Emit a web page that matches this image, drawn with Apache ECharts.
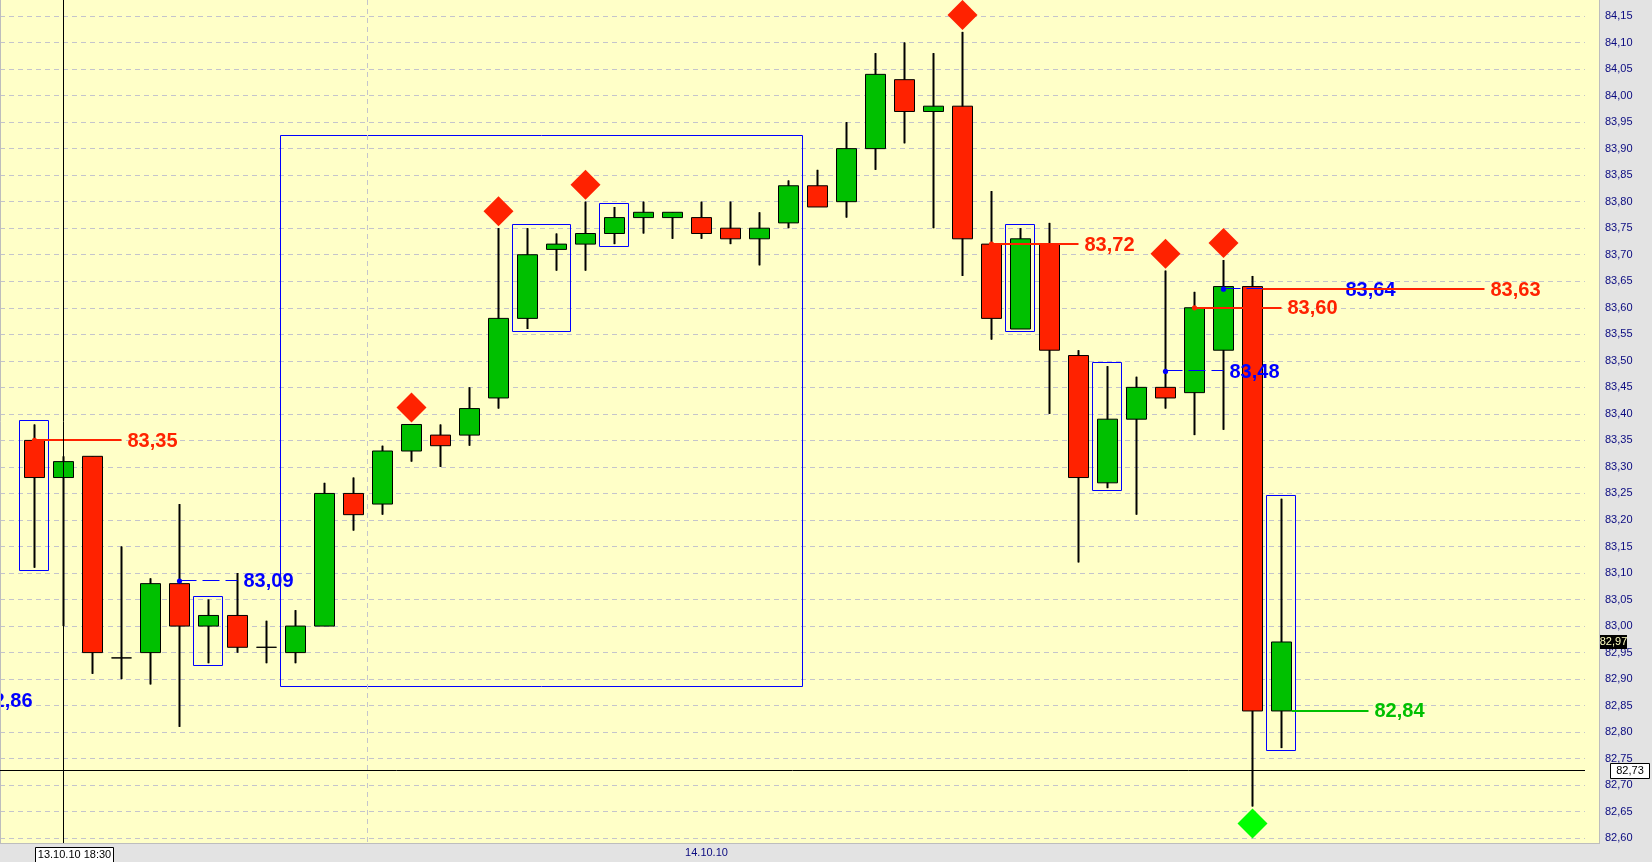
<!DOCTYPE html>
<html>
<head>
<meta charset="utf-8">
<script src="https://cdn.jsdelivr.net/npm/echarts@6/dist/echarts.min.js"></script>
<style>
html,body{margin:0;padding:0;background:#e3e3e3;}
#c{width:1652px;height:862px;}
</style>
</head>
<body>
<div id="c"></div>
<script>
// ---------------- data ----------------
const opens  = [83.35,83.28,83.32,82.94,82.95,83.08,83.00,83.02,82.96,82.95,83.00,83.25,83.23,83.33,83.36,83.36,83.43,83.58,83.71,83.72,83.74,83.77,83.77,83.77,83.75,83.73,83.76,83.83,83.80,83.90,84.03,83.97,83.98,83.72,83.56,83.72,83.51,83.27,83.39,83.45,83.44,83.52,83.64,82.84];
const closes = [83.28,83.31,82.95,82.94,83.08,83.00,83.02,82.96,82.96,83.00,83.25,83.21,83.33,83.38,83.34,83.41,83.58,83.70,83.72,83.74,83.77,83.78,83.78,83.74,83.73,83.75,83.83,83.79,83.90,84.04,83.97,83.98,83.73,83.58,83.73,83.52,83.28,83.39,83.45,83.43,83.60,83.64,82.84,82.97];
const lows   = [83.11,83.00,82.91,82.90,82.89,82.81,82.93,82.95,82.93,82.93,83.00,83.18,83.21,83.31,83.30,83.34,83.41,83.56,83.67,83.67,83.72,83.74,83.73,83.73,83.72,83.68,83.75,83.79,83.77,83.86,83.91,83.75,83.66,83.54,83.56,83.40,83.12,83.26,83.21,83.41,83.36,83.37,82.66,82.77];
const highs  = [83.38,83.32,83.32,83.15,83.09,83.23,83.05,83.10,83.01,83.03,83.27,83.28,83.34,83.38,83.38,83.45,83.75,83.75,83.74,83.80,83.79,83.80,83.78,83.80,83.80,83.78,83.84,83.86,83.95,84.08,84.10,84.08,84.12,83.82,83.75,83.76,83.52,83.49,83.47,83.67,83.63,83.69,83.66,83.24];
const emptyBars = 9;
const categories = opens.map((_, i) => String(i))
  .concat(Array.from({length: emptyBars}, (_, k) => String(opens.length + k)));

const yTickMin = 82.55, yTickMax = 84.20, yTickStep = 0.05;

// highlighted candle groups (first, last candle)
const boxFrom = [0, 6, 17, 20, 34, 37, 43];
const boxTo   = [0, 6, 18, 20, 34, 37, 43];
// consolidation zone
const zoneFrom = [9], zoneTo = [26], zoneHigh = [83.923], zoneLow = [82.886];

// price levels
const levelCandle   = [0, 5, 33, 39, 40, 41, 42, 43];
const levelValue    = [83.35, 83.085, 83.72, 83.48, 83.60, 83.635, 83.635, 82.84];
const levelLabel    = ['83,35','83,09','83,72','83,48','83,60','83,64','83,63','82,84'];
const levelSpan     = [3, 2, 3, 2, 3, 4, 8, 3];
const levelKind     = ['high','pivot','high','pivot','high','pivot','high','low'];
const levelFromBody = [false,false,false,false,false,false,true,true];

// level whose line starts off the left edge
const offLeftValue = [82.86];
const offLeftLabel = ['82,86'];

// signals
const sellSignals = [13, 16, 19, 32, 39, 41];
const buySignals  = [42];

// cursor / date info
const crossCandle = 1, crossValue = 82.727, crossDate = '13.10.10 18:30';
const dayBreakAfter = 11;
const dayLabelCandle = 23, dayLabel = '14.10.10';

// ---------------- styles ----------------
const RED = '#ff2200', GREEN = '#00c000', BLUE = '#0000ff';
const KIND = {
  high:  {color: RED,   width: 2, dash: null},
  pivot: {color: BLUE,  width: 1, dash: [17, 6]},
  low:   {color: GREEN, width: 2, dash: null}
};
const BODY = 20;
const FONT_BIG = 'bold 20px "Liberation Sans", Arial, sans-serif';
const FONT_SM = '11px "Liberation Sans", Arial, sans-serif';
const PLOT_R = 1599, PLOT_B = 843, GRID_R = 1585;
const crisp = v => Math.floor(v - 0.5) + 0.5;
const fmt = v => v.toFixed(2).replace('.', ',');

const gridTop = -10.525, gridBottom = -2.8;

function renderBox(params, api) {
  const i = params.dataIndex;
  let hi = -Infinity, lo = Infinity;
  for (let k = boxFrom[i]; k <= boxTo[i]; k++) { hi = Math.max(hi, highs[k]); lo = Math.min(lo, lows[k]); }
  const band = api.size([1, 0])[0];
  const a = api.coord([boxFrom[i], hi]), b = api.coord([boxTo[i], lo]);
  const x0 = crisp(a[0] - band / 2), x1 = crisp(b[0] + band / 2);
  const y0 = crisp(a[1] - 3), y1 = crisp(b[1] + 3);
  return {type: 'rect', shape: {x: x0, y: y0, width: x1 - x0, height: y1 - y0},
    style: {fill: 'none', stroke: BLUE, lineWidth: 1}};
}
function renderZone(params, api) {
  const i = params.dataIndex;
  const band = api.size([1, 0])[0];
  const a = api.coord([zoneFrom[i], zoneHigh[i]]), b = api.coord([zoneTo[i], zoneLow[i]]);
  const x0 = crisp(a[0] - band / 2), x1 = crisp(b[0] + band / 2);
  const y0 = crisp(a[1]), y1 = crisp(b[1]);
  return {type: 'rect', shape: {x: x0, y: y0, width: x1 - x0, height: y1 - y0},
    style: {fill: 'none', stroke: BLUE, lineWidth: 1}};
}
function renderLevel(params, api) {
  const i = params.dataIndex;
  const p = api.coord([levelCandle[i], levelValue[i]]);
  const band = api.size([1, 0])[0];
  const st = KIND[levelKind[i]];
  const y = st.width % 2 ? crisp(p[1]) : Math.round(p[1]);
  const x0 = levelFromBody[i] ? p[0] + BODY / 2 : p[0];
  const x1 = p[0] + band * levelSpan[i];
  const lineStyle = {stroke: st.color, lineWidth: st.width};
  if (st.dash) lineStyle.lineDash = st.dash;
  const children = [{type: 'line', shape: {x1: x0, y1: y, x2: x1, y2: y}, style: lineStyle}];
  if (!levelFromBody[i]) children.push({type: 'circle', shape: {cx: p[0], cy: p[1], r: 2.6}, style: {fill: st.color}});
  children.push({type: 'text', style: {x: x1 + 6, y: p[1] + 1, text: levelLabel[i], fill: st.color,
    font: FONT_BIG, align: 'left', verticalAlign: 'middle'}});
  return {type: 'group', children: children};
}
function renderOffLeft(params, api) {
  const i = params.dataIndex;
  const p = api.coord([0, offLeftValue[i]]);
  return {type: 'text', style: {x: p[0] - 2, y: p[1] + 1, text: offLeftLabel[i], fill: BLUE,
    font: FONT_BIG, align: 'right', verticalAlign: 'middle'}};
}
function renderChrome(params, api) {
  const band = api.size([1, 0])[0];
  const p = api.coord([crossCandle, crossValue]);
  const xv = crisp(p[0]), yh = crisp(p[1]);
  const sep = crisp(api.coord([dayBreakAfter, crossValue])[0] + band / 2);
  const dl = api.coord([dayLabelCandle, crossValue])[0] + 5;
  const last = closes[closes.length - 1];
  const yl = api.coord([0, last])[1];
  return {type: 'group', children: [
    {type: 'line', shape: {x1: sep, y1: 0, x2: sep, y2: PLOT_B}, style: {stroke: '#c4c4cc', lineWidth: 1, lineDash: [5, 4]}},
    {type: 'line', shape: {x1: xv, y1: 0, x2: xv, y2: PLOT_B}, style: {stroke: '#000', lineWidth: 1}},
    {type: 'line', shape: {x1: 0, y1: yh, x2: GRID_R, y2: yh}, style: {stroke: '#000', lineWidth: 1}},
    {type: 'rect', shape: {x: xv - 28, y: 847.5, width: 78, height: 16}, style: {fill: '#fff', stroke: '#000', lineWidth: 1}},
    {type: 'text', style: {x: xv + 11, y: 855, text: crossDate, fill: '#000', font: FONT_SM, align: 'center', verticalAlign: 'middle'}},
    {type: 'text', style: {x: dl, y: 852.5, text: dayLabel, fill: '#0a0a80', font: FONT_SM, align: 'center', verticalAlign: 'middle'}},
    {type: 'rect', shape: {x: 1610.5, y: yh - 7, width: 39, height: 15}, style: {fill: '#fff', stroke: '#000', lineWidth: 1}},
    {type: 'text', style: {x: 1630, y: yh + 0.5, text: fmt(crossValue), fill: '#000', font: FONT_SM, align: 'center', verticalAlign: 'middle'}},
    {type: 'rect', shape: {x: 1600, y: Math.round(yl) - 7, width: 27, height: 14}, style: {fill: '#000'}},
    {type: 'text', style: {x: 1613.5, y: Math.round(yl), text: fmt(last), fill: '#ffffc0', font: FONT_SM, align: 'center', verticalAlign: 'middle'}}
  ]};
}

const chart = echarts.init(document.getElementById('c'), null, {renderer: 'canvas'});
chart.setOption({
  animation: false,
  backgroundColor: '#e3e3e3',
  graphic: [
    {type: 'rect', z: -1, silent: true, shape: {x: 0, y: 0, width: PLOT_R, height: PLOT_B}, style: {fill: '#ffffc8'}},
    {type: 'rect', z: 50, silent: true, shape: {x: 0, y: PLOT_B, width: PLOT_R + 1, height: 862 - PLOT_B}, style: {fill: '#e3e3e3'}},
    {type: 'line', z: 51, silent: true, shape: {x1: 0.5, y1: 0, x2: 0.5, y2: PLOT_B}, style: {stroke: '#bdbdbd', lineWidth: 1}},
    {type: 'line', z: 51, silent: true, shape: {x1: 0, y1: PLOT_B + 0.5, x2: PLOT_R + 1, y2: PLOT_B + 0.5}, style: {stroke: '#bdbdbd', lineWidth: 1}},
    {type: 'line', z: 51, silent: true, shape: {x1: PLOT_R + 0.5, y1: 0, x2: PLOT_R + 0.5, y2: PLOT_B + 1}, style: {stroke: '#bdbdbd', lineWidth: 1}}
  ],
  grid: [
    {left: 0, right: 1652 - GRID_R, top: gridTop, bottom: gridBottom, containLabel: false, outerBoundsMode: 'none'},
    {left: 20, right: 1652 - (20 + categories.length * 29), top: gridTop, bottom: gridBottom, containLabel: false, outerBoundsMode: 'none'}
  ],
  xAxis: [
    {gridIndex: 0, type: 'value', min: 0, max: 1, show: false},
    {gridIndex: 1, type: 'category', data: categories, boundaryGap: true, show: false}
  ],
  yAxis: [
    {gridIndex: 0, type: 'value', min: yTickMin, max: yTickMax, interval: yTickStep,
      position: 'right', offset: PLOT_R - GRID_R,
      axisLine: {show: false},
      axisTick: {show: true, inside: true, length: 9, lineStyle: {color: '#a8a8a8'}},
      minorTick: {show: true, splitNumber: 5, length: 4, lineStyle: {color: '#a8a8a8'}},
      splitLine: {show: true, lineStyle: {color: '#c4c4cc', width: 1, type: [5, 4]}},
      axisLabel: {show: true, margin: 6, showMinLabel: false, color: '#0a0a80',
        fontSize: 11, fontFamily: '"Liberation Sans", Arial, sans-serif', formatter: fmt}},
    {gridIndex: 1, type: 'value', min: yTickMin, max: yTickMax, show: false}
  ],
  series: [
    {type: 'candlestick', name: 'wick', xAxisIndex: 1, yAxisIndex: 1, z: 2, barWidth: 3, silent: true,
      data: lows.map((l, i) => [l, highs[i], l, highs[i]]),
      itemStyle: {color: '#000', color0: '#000', borderColor: '#000', borderColor0: '#000', borderColorDoji: '#000', borderWidth: 0}},
    {type: 'candlestick', name: 'price', xAxisIndex: 1, yAxisIndex: 1, z: 3, barWidth: BODY, silent: true,
      data: opens.map((o, i) => [o, closes[i], lows[i], highs[i]]),
      itemStyle: {color: GREEN, color0: RED, borderColor: '#000', borderColor0: '#000', borderColorDoji: '#000', borderWidth: 1}},
    {type: 'custom', name: 'boxes', xAxisIndex: 1, yAxisIndex: 1, z: 4, silent: true,
      data: boxFrom.map((f, i) => [f, highs[f]]), renderItem: renderBox},
    {type: 'custom', name: 'zone', xAxisIndex: 1, yAxisIndex: 1, z: 4, silent: true,
      data: zoneFrom.map((f, i) => [f, zoneHigh[i]]), renderItem: renderZone},
    {type: 'custom', name: 'levels', xAxisIndex: 1, yAxisIndex: 1, z: 5, silent: true,
      data: levelCandle.map((c, i) => [c, levelValue[i]]), renderItem: renderLevel},
    {type: 'custom', name: 'offleft', xAxisIndex: 1, yAxisIndex: 1, z: 5, silent: true,
      data: offLeftValue.map(v => [0, v]), renderItem: renderOffLeft},
    {type: 'scatter', name: 'sell', xAxisIndex: 1, yAxisIndex: 1, z: 6, silent: true,
      symbol: 'diamond', symbolSize: 30, symbolOffset: [0, -17],
      data: sellSignals.map(i => [i, highs[i]]), itemStyle: {color: RED, opacity: 1}},
    {type: 'scatter', name: 'buy', xAxisIndex: 1, yAxisIndex: 1, z: 6, silent: true,
      symbol: 'diamond', symbolSize: 30, symbolOffset: [0, 17],
      data: buySignals.map(i => [i, lows[i]]), itemStyle: {color: '#00ff00', opacity: 1}},
    {type: 'custom', name: 'cursor', xAxisIndex: 1, yAxisIndex: 1, z: 60, silent: true,
      data: [[crossCandle, crossValue]], renderItem: renderChrome}
  ]
});
</script>
</body>
</html>
